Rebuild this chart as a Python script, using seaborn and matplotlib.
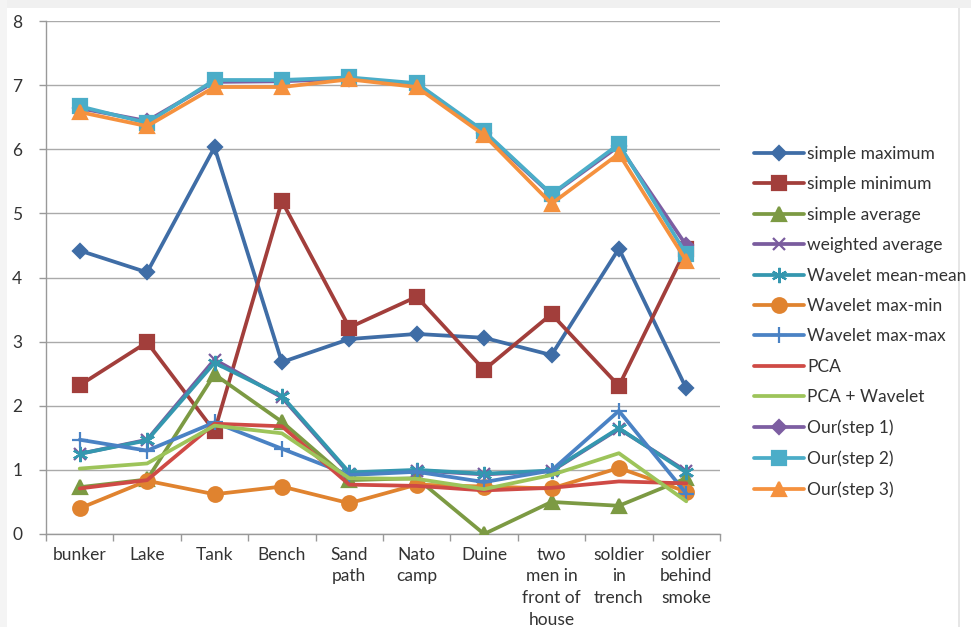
import numpy as np
import pandas as pd
import matplotlib
matplotlib.use("Agg")
import matplotlib.pyplot as plt
from matplotlib.patches import Rectangle
import seaborn as sns

# Scene categories (x axis)
categories = ["bunker", "Lake", "Tank", "Bench", "Sand\npath", "Nato\ncamp",
              "Duine", "two\nmen in\nfront of\nhouse", "soldier\nin\ntrench",
              "soldier\nbehind\nsmoke"]

# Scores of each fusion method per scene
simple_maximum = [4.42, 4.08, 6.03, 2.68, 3.04, 3.12, 3.06, 2.79, 4.45, 2.27]
simple_minimum = [2.32, 2.99, 1.60, 5.19, 3.22, 3.70, 2.56, 3.43, 2.31, 4.45]
simple_average = [0.73, 0.85, 2.49, 1.75, 0.84, 0.87, 0.00, 0.50, 0.44, 0.87]
weighted_average = [1.25, 1.47, 2.72, 2.13, 0.94, 0.99, 0.93, 0.98, 1.64, 0.98]
wavelet_mean_mean = [1.25, 1.46, 2.67, 2.15, 0.96, 1.00, 0.94, 0.99, 1.65, 0.96]
wavelet_max_min = [0.40, 0.83, 0.62, 0.74, 0.48, 0.77, 0.74, 0.71, 1.03, 0.66]
wavelet_max_max = [1.47, 1.30, 1.74, 1.33, 0.92, 0.97, 0.81, 0.99, 1.92, 0.63]
pca = [0.71, 0.84, 1.72, 1.68, 0.77, 0.75, 0.68, 0.72, 0.82, 0.79]
pca_wavelet = [1.02, 1.10, 1.69, 1.57, 0.87, 0.86, 0.70, 0.92, 1.26, 0.51]
our_step1 = [6.64, 6.44, 7.05, 7.06, 7.10, 7.02, 6.26, 5.29, 6.05, 4.50]
our_step2 = [6.67, 6.41, 7.08, 7.08, 7.12, 7.03, 6.28, 5.30, 6.08, 4.36]
our_step3 = [6.58, 6.36, 6.97, 6.97, 7.09, 6.97, 6.22, 5.15, 5.93, 4.26]

series_names = ["simple maximum", "simple minimum", "simple average",
                "weighted average", "Wavelet mean-mean", "Wavelet max-min",
                "Wavelet max-max", "PCA", "PCA + Wavelet", "Our(step 1)",
                "Our(step 2)", "Our(step 3)"]
series_values = [simple_maximum, simple_minimum, simple_average,
                 weighted_average, wavelet_mean_mean, wavelet_max_min,
                 wavelet_max_max, pca, pca_wavelet, our_step1, our_step2,
                 our_step3]

# Line colour, marker and marker size for every series
styles = {
    "simple maximum":    ("#3F6DA6", "D", 7.5),
    "simple minimum":    ("#A23E3B", "s", 9.5),
    "simple average":    ("#7C9A43", "^", 10.5),
    "weighted average":  ("#7A5C9E", "x", 9),
    "Wavelet mean-mean": ("#3497AF", (6, 2, 0), 11),
    "Wavelet max-min":   ("#E0832F", "o", 10.5),
    "Wavelet max-max":   ("#4A82C4", "+", 11),
    "PCA":               ("#CF4A45", None, 0),
    "PCA + Wavelet":     ("#9DC45A", None, 0),
    "Our(step 1)":       ("#7D5EA2", "D", 7.5),
    "Our(step 2)":       ("#4BADC8", "s", 10.5),
    "Our(step 3)":       ("#F5913E", "^", 10.5),
}

positions = np.arange(len(categories))
rows = []
for name, vals in zip(series_names, series_values):
    for pos, v in zip(positions, vals):
        rows.append({"pos": pos, "value": v, "method": name})
df = pd.DataFrame(rows)

sns.set_theme(style="white")
plt.rcParams["font.family"] = ["Lato", "DejaVu Sans"]

fig = plt.figure(figsize=(9.71, 6.27), dpi=100)
fig.patch.set_facecolor("white")

# soft frame around the sheet
fig.add_artist(Rectangle((0, 1 - 8 / 627), 1, 8 / 627, transform=fig.transFigure,
                         facecolor="#f0f0f0", edgecolor="none", zorder=-5))
fig.add_artist(Rectangle((0, 0), 7 / 971, 1, transform=fig.transFigure,
                         facecolor="#f4f4f4", edgecolor="none", zorder=-5))
fig.add_artist(Rectangle((958 / 971, 0), 1.5 / 971, 1 - 8 / 627, transform=fig.transFigure,
                         facecolor="#e6e6e6", edgecolor="none", zorder=-5))

ax = fig.add_axes([46 / 971, 1 - 534 / 627, (720 - 46) / 971, (534 - 21) / 627])

handles = []
for name in series_names:
    color, marker, msize = styles[name]
    sub = df[df["method"] == name]
    kw = dict(color=color, linewidth=2.7, ax=ax, legend=False, zorder=3)
    if marker is not None:
        kw.update(marker=marker, markersize=msize, markeredgecolor=color,
                  markerfacecolor=color, markeredgewidth=1.6)
    sns.lineplot(data=sub, x="pos", y="value", **kw)
    handles.append(ax.lines[-1])

ax.set_xlim(-0.5, len(categories) - 0.5)
ax.set_ylim(0, 8)
ax.set_yticks(range(0, 9))
ax.set_xticks(positions)
ax.set_xticklabels(categories, linespacing=1.45)
ax.set_xticks(np.arange(-0.5, len(categories), 1.0), minor=True)
ax.set_xlabel("")
ax.set_ylabel("")

ax.grid(axis="y", color="#aaaaaa", linewidth=1.0, zorder=0)
ax.grid(axis="x", visible=False)
for side in ("top", "right"):
    ax.spines[side].set_visible(False)
for side in ("left", "bottom"):
    ax.spines[side].set_color("#999999")
    ax.spines[side].set_linewidth(1.0)

ax.tick_params(axis="x", which="major", length=0, pad=9, labelsize=12.5,
               labelcolor="#333333")
ax.tick_params(axis="x", which="minor", length=5, width=1, color="#999999",
               direction="out", bottom=True)
ax.tick_params(axis="y", which="major", length=5, width=1, color="#999999",
               direction="out", left=True, pad=12, labelsize=12.5,
               labelcolor="#333333")
for lbl in ax.get_xticklabels():
    lbl.set_verticalalignment("top")

leg = fig.legend(handles=handles, labels=series_names, loc="upper left",
                 bbox_to_anchor=(747 / 971, 1 - 139 / 627), frameon=False,
                 fontsize=12.5, handlelength=2.9, handletextpad=0.15,
                 labelspacing=0.83, numpoints=1, borderaxespad=0)
for t in leg.get_texts():
    t.set_color("#333333")

fig.savefig("out.png", dpi=100, facecolor=fig.get_facecolor())
